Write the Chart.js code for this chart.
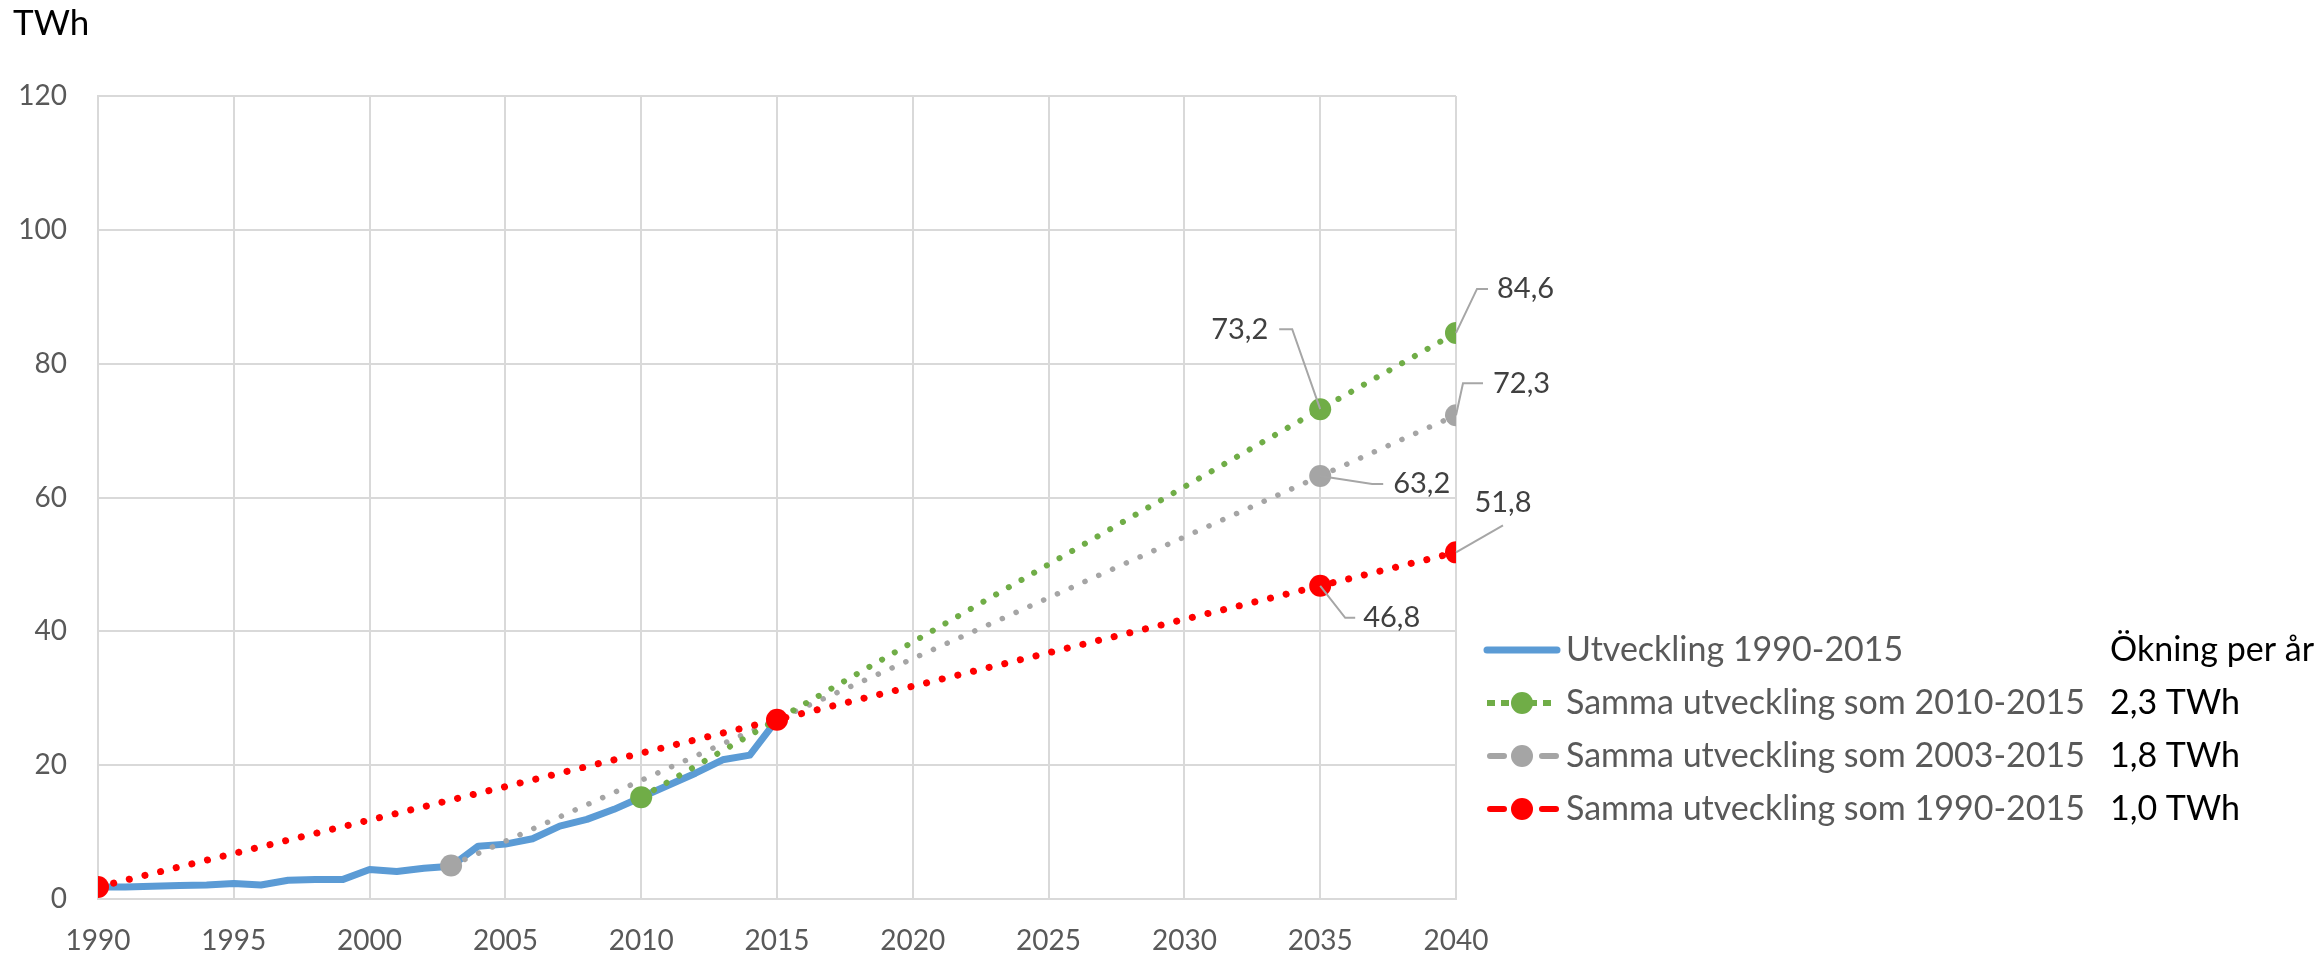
<!DOCTYPE html>
<html lang="sv">
<head>
<meta charset="utf-8">
<title>Utveckling TWh</title>
<script src="https://cdn.jsdelivr.net/npm/chart.js@4.4.1/dist/chart.umd.min.js"></script>
<style>
  html, body { margin: 0; padding: 0; background: #fff; }
  #wrap { width: 2322px; height: 955px; position: relative; }
</style>
</head>
<body>
<div id="wrap"><canvas id="twhChart"></canvas></div>
<script>
// faktiska värden 1990-2015 (TWh)
const ar = [1990, 1991, 1992, 1993, 1994, 1995, 1996, 1997, 1998, 1999, 2000, 2001, 2002,
            2003, 2004, 2005, 2006, 2007, 2008, 2009, 2010, 2011, 2012, 2013, 2014, 2015];
const utveckling = [1.8, 1.8, 1.9, 2.0, 2.1, 2.3, 2.1, 2.8, 2.9, 2.9, 4.4, 4.1, 4.6,
                    4.9, 7.9, 8.2, 9.0, 10.9, 11.9, 13.4, 15.2, 17.0, 18.8, 20.8, 21.5, 26.8];

// trender
const ar2010 = [2010, 2035, 2040];
const trend2010 = [15.2, 73.2, 84.6];
const ar2003 = [2003, 2035, 2040];
const trend2003 = [5.0, 63.2, 72.3];
const ar1990 = [1990, 2015, 2035, 2040];
const trend1990 = [1.8, 26.8, 46.8, 51.8];

const xTicks = [1990, 1995, 2000, 2005, 2010, 2015, 2020, 2025, 2030, 2035, 2040];
const yTicks = [0, 20, 40, 60, 80, 100, 120];

const serieNamn = ["Utveckling 1990-2015", "Samma utveckling som 2010-2015",
                   "Samma utveckling som 2003-2015", "Samma utveckling som 1990-2015"];
const okningRubrik = "Ökning per år";
const okning = ["2,3 TWh", "1,8 TWh", "1,0 TWh"];

const FONT = "Lato, 'Open Sans', sans-serif";

function punkter(xs, ys) {
  return xs.map((x, i) => ({ x: x, y: ys[i] }));
}
function kommatecken(v) {
  return v.toFixed(1).replace(".", ",");
}

// etiketter med hänvisningslinjer: [dataset, index, knä dx, knä dy, svans dx, text dx, text dy, justering]
const etiketter = [
  [1, 1, -28, -80, -13, -11, 0, "right"],
  [1, 2, 21, -44, 11, 9, 0, "left"],
  [2, 2, 7, -32, 20, 10, 0, "left"],
  [2, 1, 52, 8, 11, 10, 0, "left"],
  [3, 3, 47, -27, 0, 0, -23, "center"],
  [3, 2, 25, 32, 10, 8, 0, "left"]
];

const extraRitning = {
  id: "extraRitning",
  afterDatasetsDraw(chart) {
    const ctx = chart.ctx;
    ctx.save();
    // data-etiketter
    etiketter.forEach(e => {
      const [ds, i, kx, ky, sx, tx, ty, just] = e;
      const el = chart.getDatasetMeta(ds).data[i];
      const v = chart.data.datasets[ds].data[i].y;
      const px = el.x, py = el.y;
      ctx.strokeStyle = "#a6a6a6";
      ctx.lineWidth = 2;
      ctx.beginPath();
      ctx.moveTo(px, py);
      ctx.lineTo(px + kx, py + ky);
      if (sx !== 0) ctx.lineTo(px + kx + sx, py + ky);
      ctx.stroke();
      ctx.fillStyle = "#404040";
      ctx.font = "29px " + FONT;
      ctx.textAlign = just;
      ctx.textBaseline = "middle";
      ctx.fillText(kommatecken(v), px + kx + sx + tx, py + ky + ty);
    });
    ctx.restore();
  },
  afterDraw(chart) {
    const ctx = chart.ctx;
    ctx.save();
    // enhet
    ctx.fillStyle = "#000";
    ctx.font = "35px " + FONT;
    ctx.textAlign = "left";
    ctx.textBaseline = "middle";
    ctx.fillText("TWh", 13, 24);

    // förklaring
    const x0 = 1487, x1 = 1557, xm = 1522, xt = 1566;
    chart.data.datasets.forEach((d, i) => {
      const y = 650 + i * 53;
      ctx.strokeStyle = d.borderColor;
      ctx.lineWidth = 6;
      if (i === 0) {
        ctx.lineCap = "round";
        ctx.lineWidth = 7;
        ctx.setLineDash([]);
      } else if (i === 1) {
        ctx.lineCap = "butt";
        ctx.setLineDash([8, 6]);
      } else {
        ctx.lineCap = "round";
        ctx.setLineDash([14, 38]);
      }
      ctx.beginPath();
      ctx.moveTo(x0 + (i > 1 ? 3 : 0), y);
      ctx.lineTo(x1, y);
      ctx.stroke();
      ctx.setLineDash([]);
      if (i > 0) {
        ctx.fillStyle = d.pointBackgroundColor;
        ctx.beginPath();
        ctx.arc(xm, y, 11, 0, Math.PI * 2);
        ctx.fill();
      }
      ctx.fillStyle = "#595959";
      ctx.font = "34px " + FONT;
      ctx.textAlign = "left";
      ctx.textBaseline = "middle";
      ctx.fillText(d.label, xt, y);
    });
    ctx.fillStyle = "#000";
    ctx.fillText(okningRubrik, 2110, 650);
    okning.forEach((t, i) => ctx.fillText(t, 2110, 650 + (i + 1) * 53));
    ctx.restore();
  }
};

const ctx = document.getElementById("twhChart").getContext("2d");
const twhChart = new Chart(ctx, {
  type: "line",
  data: {
    datasets: [
      {
        label: serieNamn[0],
        data: punkter(ar, utveckling),
        borderColor: "#5b9bd5",
        borderWidth: 7,
        borderJoinStyle: "round",
        pointRadius: 0,
        order: 3
      },
      {
        label: serieNamn[1],
        data: punkter(ar2010, trend2010),
        borderColor: "#70ad47",
        borderWidth: 6,
        borderDash: [0.1, 14.5],
        borderCapStyle: "round",
        pointRadius: 11,
        pointBorderWidth: 0,
        pointBackgroundColor: "#70ad47",
        order: 1
      },
      {
        label: serieNamn[2],
        data: punkter(ar2003, trend2003),
        borderColor: "#a5a5a5",
        borderWidth: 5.5,
        borderDash: [0.1, 15],
        borderCapStyle: "round",
        pointRadius: 11,
        pointBorderWidth: 0,
        pointBackgroundColor: "#a5a5a5",
        order: 2
      },
      {
        label: serieNamn[3],
        data: punkter(ar1990, trend1990),
        borderColor: "#ff0000",
        borderWidth: 7,
        borderDash: [0.1, 16],
        borderCapStyle: "round",
        pointRadius: 11,
        pointBorderWidth: 0,
        pointBackgroundColor: "#ff0000",
        order: 0
      }
    ]
  },
  options: {
    responsive: true,
    maintainAspectRatio: false,
    animation: false,
    devicePixelRatio: 1,
    layout: { padding: { top: 96, right: 866, bottom: 0, left: 0 } },
    plugins: {
      legend: { display: false },
      tooltip: { enabled: false }
    },
    scales: {
      x: {
        type: "linear",
        min: 1990,
        max: 2040,
        afterBuildTicks: s => { s.ticks = xTicks.map(v => ({ value: v })); },
        afterFit: s => { s.height = 56; },
        grid: { color: "#d9d9d9", lineWidth: 2, drawTicks: false },
        border: { color: "#d9d9d9", width: 2 },
        ticks: {
          color: "#595959",
          font: { family: FONT, size: 28 },
          padding: 25,
          maxRotation: 0,
          callback: v => String(v)
        }
      },
      y: {
        min: 0,
        max: 120,
        afterBuildTicks: s => { s.ticks = yTicks.map(v => ({ value: v })); },
        afterFit: s => { s.width = 98; },
        grid: { color: "#d9d9d9", lineWidth: 2, drawTicks: false },
        border: { color: "#d9d9d9", width: 2 },
        ticks: {
          color: "#595959",
          font: { family: FONT, size: 28 },
          padding: 31
        }
      }
    }
  },
  plugins: [extraRitning]
});
</script>
</body>
</html>
